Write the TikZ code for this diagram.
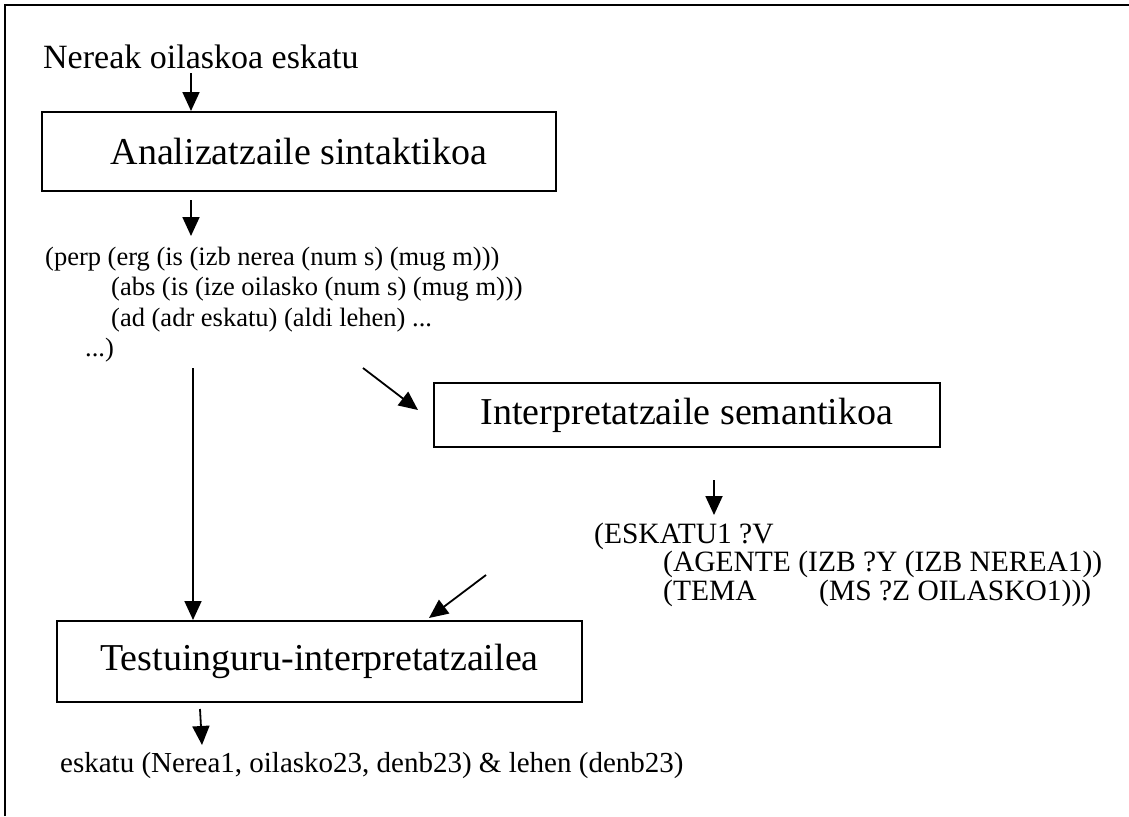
\documentclass[tikz,border=0pt]{standalone}
\usepackage{fontspec}
\setmainfont{Liberation Serif}
\usetikzlibrary{arrows.meta}
\begin{document}
\begin{tikzpicture}[x=1pt,y=-1pt,
  frameline/.style={line width=2pt},
  stage/.style={draw, line width=2pt, inner sep=0pt, font=\fontsize{38}{44}\selectfont},
  txt/.style={inner sep=0pt, anchor=base west},
  big/.style={font=\fontsize{34}{40}\selectfont},
  mid/.style={font=\fontsize{29.5}{35}\selectfont},
  small/.style={font=\fontsize{26.5}{31}\selectfont},
  foot/.style={font=\fontsize{29}{34}\selectfont},
  arr/.style={line width=1.8pt, -{Triangle[length=19pt,width=17pt]}},
]
\useasboundingbox (0,0) rectangle (1129,816);
% outer frame (only the top and left sides fall inside the page)
\draw[frameline] (5,816) -- (5,5) -- (1129,5);

% input sentence
\node[txt, big] (input) at (43,68) {Nereak oilaskoa eskatu};

% processing stages
\node[stage, minimum width=514pt, minimum height=79pt] (ana) at (299,151.5) {Analizatzaile sintaktikoa};
\node[stage, minimum width=506pt, minimum height=64pt] (sem) at (687,415) {Interpretatzaile semantikoa};
\node[stage, minimum width=525pt, minimum height=81pt] (test) at (319.5,661.5) {Testuinguru-interpretatzailea};

% syntactic structure
\node[txt, small] (syn1) at (45,265) {(perp (erg (is (izb nerea (num s) (mug m)))};
\node[txt, small] (syn2) at (111,295.5) {(abs (is (ize oilasko (num s) (mug m)))};
\node[txt, small] (syn3) at (111,326) {(ad (adr eskatu) (aldi lehen) ...};
\node[txt, small] (syn4) at (85,356.5) {...)};

% semantic form
\node[txt, mid] (lf1) at (594,543) {(ESKATU1 ?V};
\node[txt, mid] (lf2) at (663,571.5) {(AGENTE (IZB ?Y (IZB NEREA1))};
\node[txt, mid] (lf3) at (663,600) {\makebox[156pt][l]{(TEMA}(MS ?Z OILASKO1)))};

% final interpretation
\node[txt, foot] (out) at (60,772) {eskatu (Nerea1, oilasko23, denb23) \& lehen (denb23)};

% connectors
\coordinate (a1) at (191,73);
\draw[arr] (a1) -- (a1 |- ana.north);

\coordinate (a2) at (191,200);
\coordinate (a2e) at (191,236);
\draw[arr] (a2) -- (a2e);

\coordinate (v1) at (193,368);
\draw[arr] (v1) -- (v1 |- test.north);

\coordinate (d1) at (363,368);
\coordinate (d1e) at (418,410);
\draw[arr] (d1) -- (d1e);

\coordinate (a3) at (714,480);
\coordinate (a3e) at (714,515);
\draw[arr] (a3) -- (a3e);

\coordinate (d2) at (486,575);
\coordinate (d2e) at (429,618);
\draw[arr] (d2) -- (d2e);

\coordinate (a4) at (200,709);
\coordinate (a4e) at (202,745);
\draw[arr] (a4) -- (a4e);
\end{tikzpicture}
\end{document}
